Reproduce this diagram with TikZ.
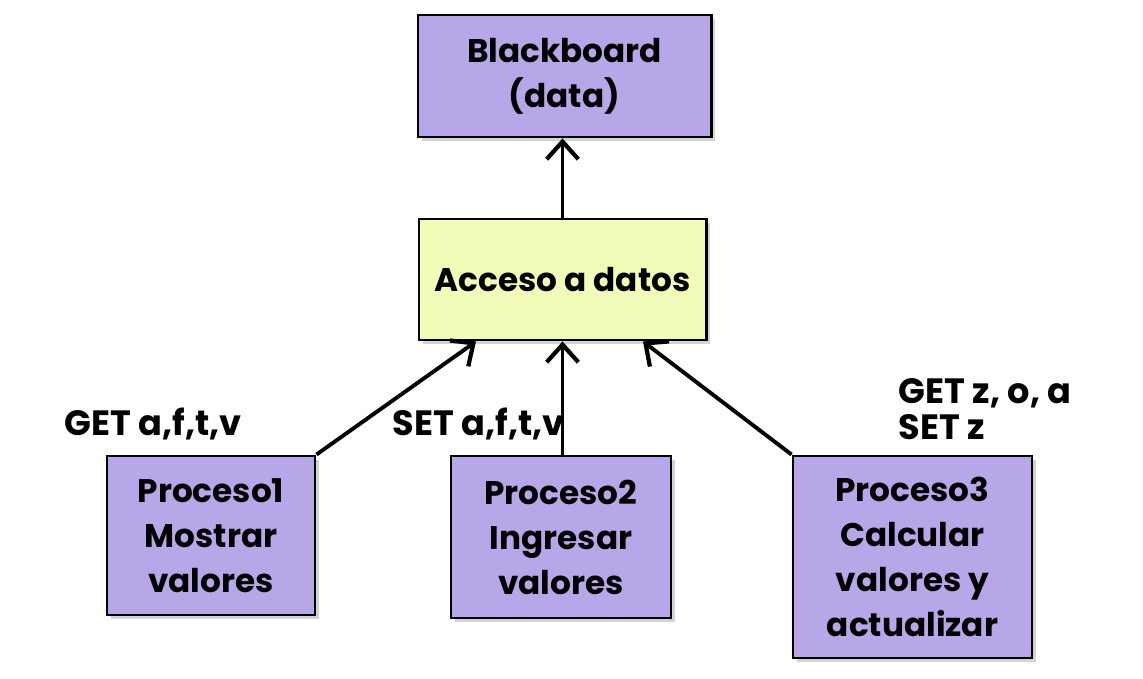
\documentclass[tikz,border=0pt]{standalone}
\usepackage{fontspec}
\setmainfont{Poppins}[BoldFont={* Bold}]
\usepackage{tikz}
\usetikzlibrary{arrows.meta}
\usetikzlibrary{shadows}
\definecolor{lila}{RGB}{184,167,232}
\definecolor{amarillo}{RGB}{242,252,184}

\begin{document}
\begin{tikzpicture}[x=0.01cm, y=-0.01cm,
  caja/.style={draw=black, line width=0.8pt, fill=lila, align=center,
    font=\bfseries\fontsize{9.3}{12.8}\selectfont, inner sep=0pt,
    drop shadow={opacity=0.35, shadow xshift=1.2pt, shadow yshift=-1.2pt}},
  flecha/.style={-{Straight Barb[length=5pt, width=9pt, line width=1.2pt]}, line width=1.1pt},
  etiqueta/.style={align=left, font=\bfseries\fontsize{10}{10.2}\selectfont, inner sep=0pt}]
\useasboundingbox (0,0) rectangle (1143,678);
% cajas
\node[caja, minimum width=2.93cm, minimum height=1.22cm] (board) at (564.5,76) {Blackboard\\(data)};
\node[caja, fill=amarillo, minimum width=2.87cm, minimum height=1.21cm] (acceso) at (562.5,279.5) {Acceso a datos};
\node[caja, minimum width=2.08cm, minimum height=1.59cm] (p1) at (211,535.5) {Proceso1\\Mostrar\\valores};
\node[caja, minimum width=2.20cm, minimum height=1.62cm] (p2) at (561,537) {Proceso2\\Ingresar\\valores};
\node[caja, minimum width=2.39cm, minimum height=2.02cm] (p3) at (912.5,557) {Proceso3\\Calcular\\valores y\\actualizar};
% flechas
\draw[flecha] (acceso.north) -- (acceso.north |- board.south);
\draw[flecha] (p1.north east) -- (acceso.south west -| 476,0);
\draw[flecha] (p2.north -| acceso.south) -- (acceso.south);
\draw[flecha] (p3.north west) -- (acceso.south -| 643,0);
% etiquetas
\node[etiqueta, anchor=west] (l1) at (64,424) {GET a,f,t,v};
\node[etiqueta, anchor=west] (l2) at (392,424) {SET a,f,t,v};
\node[etiqueta, anchor=west] (l3) at (898,409) {GET z, o, a\\SET z};
\end{tikzpicture}
\end{document}
